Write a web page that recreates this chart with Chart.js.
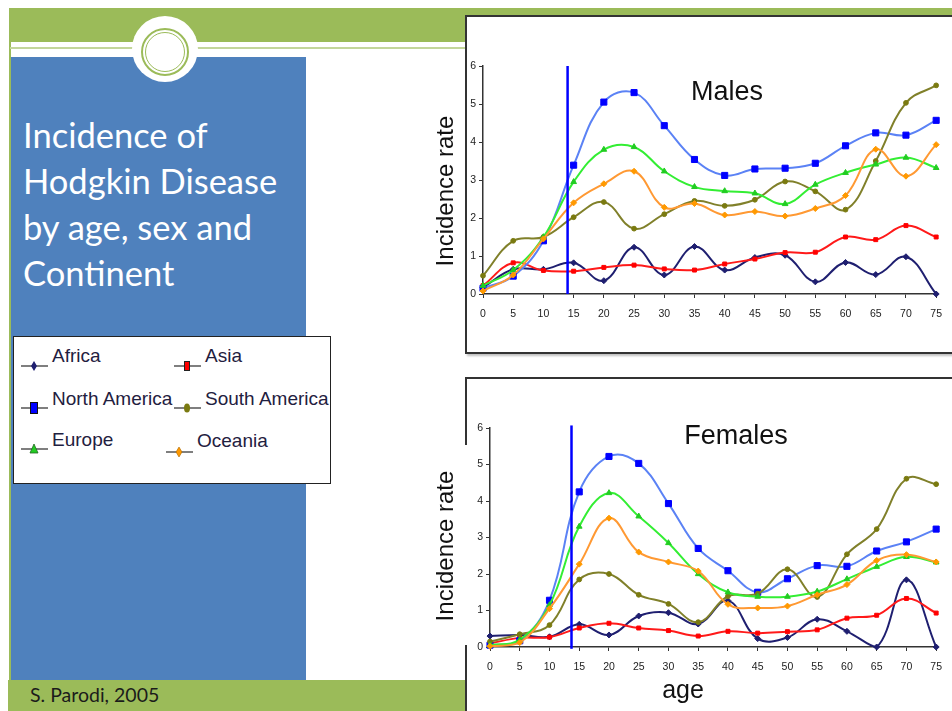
<!DOCTYPE html>
<html>
<head>
<meta charset="utf-8">
<script src="https://cdn.jsdelivr.net/npm/chart.js@4.4.1/dist/chart.umd.min.js"></script>
<style>
  html, body { margin: 0; padding: 0; background: #fff; }
  body { width: 952px; height: 711px; position: relative; overflow: hidden; font-family: "Liberation Sans", Arial, sans-serif; }
  .abs { position: absolute; }
  #topbar { left: 10px; top: 8px; width: 942px; height: 34px; background: #9bbb59; }
  #leftline { left: 9px; top: 8px; width: 2px; height: 672px; background: #9bbb59; }
  #thinline { left: 10px; top: 47px; width: 456px; height: 2px; background: #c3d69b; }
  #panel { left: 11px; top: 57px; width: 295px; height: 623px; background: #4f81bd; }
  #footer { left: 8px; top: 680px; width: 458px; height: 31px; background: #9bbb59; }
  #footer span { position: absolute; left: 22px; top: 3px; font: 19.5px Lato, "Open Sans", sans-serif; color: #1b1b1b; }
  #disc { left: 132px; top: 16px; width: 66px; height: 66px; border-radius: 50%; background: #fff; }
  #ring1 { left: 141px; top: 28px; width: 44px; height: 44px; border-radius: 50%; border: 2px solid #9bbb59; }
  #ring2 { left: 145px; top: 32px; width: 38px; height: 38px; border-radius: 50%; border: 1.5px solid #9bbb59; }
  #title { left: 23px; top: 112px; width: 283px; color: #fff; font: 34.5px Lato, "Open Sans", sans-serif; line-height: 46px; white-space: nowrap; }
  #legend { left: 13px; top: 336px; width: 316px; height: 146px; border: 1.5px solid #222; background: #fff; }
  .lg { position: absolute; font-size: 19px; color: #1f2040; white-space: nowrap; line-height: 22px; }
  .box { background: #fff; box-shadow: 2px 2px 2px rgba(0,0,0,0.25); }
  #boxM { left: 465px; top: 15px; width: 500px; height: 335px; border: 2px solid #333; }
  #boxF { left: 465px; top: 377px; width: 500px; height: 400px; border: 2px solid #333; border-left: none; }
  .seg { background: #333; width: 2px; }
  canvas { position: absolute; }
</style>
</head>
<body>
<div id="topbar" class="abs"></div>
<div id="leftline" class="abs"></div>
<div id="thinline" class="abs"></div>
<div id="panel" class="abs"></div>
<div id="disc" class="abs"></div>
<div id="ring1" class="abs"></div>
<div id="ring2" class="abs"></div>
<div id="title" class="abs">Incidence of<br>Hodgkin Disease<br>by age, sex and<br>Continent</div>
<div id="legend" class="abs"></div>
<div id="footer" class="abs"><span>S. Parodi, 2005</span></div>

<div id="boxM" class="abs box"></div>
<div id="boxF" class="abs box"></div>
<div class="abs seg" style="left:465px;top:377px;height:68px"></div>
<div class="abs seg" style="left:465px;top:645px;height:66px"></div>

<canvas id="malesChart" width="522" height="337" style="left:430px;top:15px"></canvas>
<canvas id="femalesChart" width="522" height="334" style="left:430px;top:377px"></canvas>

<script>
// ages (x axis) and y ticks
const ages = [0, 5, 10, 15, 20, 25, 30, 35, 40, 45, 50, 55, 60, 65, 70, 75];
const yTicks = [0, 1, 2, 3, 4, 5, 6];

// males, incidence rate per continent
const africaM = [0.17, 0.65, 0.65, 0.82, 0.35, 1.23, 0.5, 1.25, 0.63, 0.96, 1.02, 0.32, 0.83, 0.51, 0.98, 0.0];
const asiaM = [0.22, 0.82, 0.62, 0.6, 0.7, 0.76, 0.66, 0.63, 0.79, 0.92, 1.09, 1.1, 1.5, 1.43, 1.8, 1.5];
const northAmM = [0.15, 0.47, 1.4, 3.39, 5.05, 5.3, 4.43, 3.54, 3.12, 3.29, 3.31, 3.44, 3.9, 4.24, 4.18, 4.57];
const southAmM = [0.48, 1.4, 1.5, 2.02, 2.42, 1.72, 2.1, 2.45, 2.32, 2.48, 2.96, 2.7, 2.22, 3.5, 5.03, 5.49];
const europeM = [0.22, 0.63, 1.5, 2.95, 3.8, 3.87, 3.23, 2.82, 2.71, 2.65, 2.37, 2.88, 3.19, 3.41, 3.59, 3.32];
const oceaniaM = [0.08, 0.5, 1.45, 2.4, 2.9, 3.23, 2.28, 2.38, 2.08, 2.17, 2.05, 2.25, 2.59, 3.81, 3.1, 3.93];

// females
const africaF = [0.3, 0.33, 0.28, 0.62, 0.33, 0.85, 0.94, 0.63, 1.27, 0.23, 0.26, 0.76, 0.43, 0.0, 1.84, 0.0];
const asiaF = [0.1, 0.25, 0.27, 0.52, 0.65, 0.52, 0.45, 0.3, 0.43, 0.38, 0.42, 0.47, 0.79, 0.87, 1.33, 0.93];
const northAmF = [0.05, 0.17, 1.28, 4.25, 5.22, 5.03, 3.93, 2.7, 2.09, 1.5, 1.87, 2.23, 2.21, 2.63, 2.88, 3.23];
const southAmF = [0.15, 0.35, 0.6, 1.85, 2.0, 1.43, 1.18, 0.68, 1.39, 1.46, 2.13, 1.37, 2.54, 3.23, 4.61, 4.46];
const europeF = [0.05, 0.2, 1.15, 3.3, 4.22, 3.58, 2.85, 2.0, 1.5, 1.38, 1.38, 1.52, 1.86, 2.2, 2.47, 2.32];
const oceaniaF = [0.02, 0.12, 1.05, 2.27, 3.53, 2.6, 2.33, 2.08, 1.17, 1.07, 1.12, 1.43, 1.71, 2.37, 2.53, 2.33];

// the vertical marker line (age, bottom, top)
const cutoffM = [14, 0, 6];
const cutoffF = [13.7, -0.05, 6.07];

const continents = ["Africa", "Asia", "North America", "South America", "Europe", "Oceania"];

// look of each series
const styles = [
    { line: "#1f1f70", point: "#1f1f70", shape: "rectRot", r: 3 },
    { line: "#ff1a1a", point: "#ff0000", shape: "rect", r: 2.8 },
    { line: "#5b82f5", point: "#0000ff", shape: "rect", r: 4.3 },
    { line: "#80802a", point: "#7a7a10", shape: "circle", r: 2.4 },
    { line: "#33ee33", point: "#22cc22", shape: "triangle", r: 3.3 },
    { line: "#ff9933", point: "#ff9900", shape: "rectRot", r: 3 }
];

const FONT = "'Liberation Sans', Arial, sans-serif";

// free text drawn on the canvas (titles)
const textPlugin = {
    id: 'texts',
    afterDraw(chart, args, opts) {
        const ctx = chart.ctx;
        (opts.items || []).forEach(t => {
            ctx.save();
            ctx.translate(t.x, t.y);
            ctx.rotate(t.rot || 0);
            ctx.font = t.font;
            ctx.fillStyle = '#111';
            ctx.textAlign = 'center';
            ctx.textBaseline = 'middle';
            ctx.fillText(t.text, 0, 0);
            ctx.restore();
        });
    }
};

function buildChart(id, seriesList, cutoff, layout, texts) {
    let datasets = seriesList.map((vals, i) => ({
        label: continents[i],
        data: ages.map((a, j) => ({ x: a, y: vals[j] })),
        borderColor: styles[i].line,
        backgroundColor: styles[i].point,
        pointBorderColor: styles[i].point,
        pointBackgroundColor: styles[i].point,
        pointStyle: styles[i].shape,
        pointRadius: styles[i].r,
        pointBorderWidth: 1,
        borderWidth: 2,
        tension: 0.4,
        clip: false,
        order: seriesList.length - i
    }));
    datasets.push({
        label: 'cutoff',
        data: [{ x: cutoff[0], y: cutoff[1] }, { x: cutoff[0], y: cutoff[2] }],
        borderColor: '#0000ff',
        borderWidth: 2.5,
        pointRadius: 0,
        tension: 0,
        clip: false,
        order: 0
    });

    const tickFont = { family: FONT, size: 10.5 };
    return new Chart(document.getElementById(id).getContext('2d'), {
        type: 'line',
        data: { datasets: datasets },
        options: {
            responsive: false,
            animation: false,
            layout: { padding: { top: layout.top, right: layout.right, left: 0, bottom: 0 } },
            plugins: {
                legend: { display: false },
                tooltip: { enabled: false },
                texts: { items: texts }
            },
            scales: {
                x: {
                    type: 'linear', min: 0, max: 75,
                    afterBuildTicks: s => { s.ticks = ages.map(v => ({ value: v })); },
                    ticks: { color: '#222', font: tickFont, padding: 10, maxRotation: 0, autoSkip: false },
                    grid: { drawOnChartArea: false, drawTicks: true, tickLength: 4, color: '#333', lineWidth: 1 },
                    border: { color: '#333', width: 1.5 },
                    afterFit: s => { s.height = layout.xh; }
                },
                y: {
                    min: 0, max: 6,
                    afterBuildTicks: s => { s.ticks = yTicks.map(v => ({ value: v })); },
                    ticks: { color: '#222', font: tickFont, padding: 3 },
                    grid: { drawOnChartArea: false, drawTicks: true, tickLength: 4, color: '#333', lineWidth: 1 },
                    border: { color: '#333', width: 1.5 },
                    afterFit: s => { s.width = layout.yw; }
                }
            }
        },
        plugins: [textPlugin]
    });
}

buildChart('malesChart',
    [africaM, asiaM, northAmM, southAmM, europeM, oceaniaM],
    cutoffM,
    { top: 51, right: 9, xh: 58, yw: 53 },
    [
        { text: 'Males', x: 297, y: 78, font: "27px " + FONT },
        { text: 'Incidence rate', x: 16, y: 176, rot: -Math.PI / 2, font: "24px " + FONT }
    ]);

buildChart('femalesChart',
    [africaF, asiaF, northAmF, southAmF, europeF, oceaniaF],
    cutoffF,
    { top: 51, right: 8, xh: 64, yw: 60 },
    [
        { text: 'Females', x: 306, y: 60, font: "27px " + FONT },
        { text: 'Incidence rate', x: 16, y: 169, rot: -Math.PI / 2, font: "24px " + FONT },
        { text: 'age', x: 253, y: 314, font: "25px " + FONT }
    ]);

// legend box on the left
const legendSlots = [
    { lx: 7, ly: 18, tx: 38, ty: 8 },
    { lx: 160, ly: 18, tx: 191, ty: 8 },
    { lx: 7, ly: 60, tx: 38, ty: 51 },
    { lx: 160, ly: 60, tx: 191, ty: 51 },
    { lx: 7, ly: 101, tx: 38, ty: 92 },
    { lx: 152, ly: 104, tx: 183, ty: 93 }
];

function markerSvg(i) {
    const c = styles[i].point;
    let m = '';
    if (i === 0) m = `<polygon points="13,1 16,6 13,11 10,6" fill="${c}"/>`;
    if (i === 1) m = `<rect x="10.5" y="1.5" width="5" height="9" fill="${c}" stroke="#222" stroke-width="1"/>`;
    if (i === 2) m = `<rect x="9.5" y="0.5" width="7" height="11" fill="${c}" stroke="#111" stroke-width="1"/>`;
    if (i === 3) m = `<ellipse cx="13" cy="6" rx="3" ry="4.5" fill="${c}"/>`;
    if (i === 4) m = `<polygon points="13,1 17,10 9,10" fill="${c}" stroke="#226622" stroke-width="0.8"/>`;
    if (i === 5) m = `<polygon points="13,1 16,6 13,11 10,6" fill="${c}" stroke="#aa6600" stroke-width="0.6"/>`;
    return `<svg width="27" height="12" viewBox="0 0 27 12"><line x1="0" y1="6" x2="27" y2="6" stroke="#555" stroke-width="1.5"/>${m}</svg>`;
}

const legendEl = document.getElementById('legend');
continents.forEach((name, i) => {
    const s = legendSlots[i];
    const mk = document.createElement('div');
    mk.className = 'lg';
    mk.style.left = s.lx + 'px';
    mk.style.top = s.ly + 'px';
    mk.innerHTML = markerSvg(i);
    legendEl.appendChild(mk);
    const tx = document.createElement('div');
    tx.className = 'lg';
    tx.style.left = s.tx + 'px';
    tx.style.top = s.ty + 'px';
    tx.textContent = name;
    legendEl.appendChild(tx);
});
</script>
</body>
</html>
